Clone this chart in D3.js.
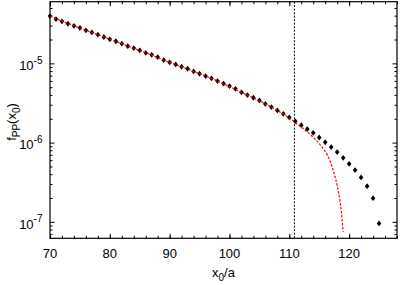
<!DOCTYPE html>
<html>
<head>
<meta charset="utf-8">
<script src="https://cdn.jsdelivr.net/npm/d3@7"></script>
<style>
  body { margin: 0; background: #fff; }
  text { font-family: "Liberation Sans", Arial, sans-serif; fill: #000; }
</style>
</head>
<body>
<div id="chart"></div>
<script>
// simulation points (black)
const simX = d3.range(70, 126);
const simY = [
  3.95e-5, 3.62e-5, 3.39e-5, 3.16e-5, 2.98e-5, 2.81e-5, 2.61e-5, 2.46e-5, 2.30e-5, 2.15e-5,
  2.01e-5, 1.90e-5, 1.77e-5, 1.65e-5, 1.56e-5, 1.46e-5, 1.36e-5, 1.28e-5, 1.20e-5, 1.10e-5,
  1.03e-5, 9.70e-6, 9.06e-6, 8.55e-6, 7.92e-6, 7.39e-6, 6.92e-6, 6.47e-6, 5.98e-6, 5.56e-6,
  5.17e-6, 4.77e-6, 4.31e-6, 3.98e-6, 3.68e-6, 3.41e-6, 3.08e-6, 2.81e-6, 2.55e-6, 2.31e-6,
  2.08e-6, 1.86e-6, 1.66e-6, 1.48e-6, 1.33e-6, 1.16e-6, 1.01e-6, 8.77e-7, 7.59e-7, 6.43e-7,
  5.40e-7, 4.50e-7, 3.64e-7, 2.82e-7, 1.99e-7, 9.55e-8
];

// theory curve (red dashed)
const fitX = [70, 74, 78, 82, 86, 90, 94, 98, 102, 106, 108, 110, 110.83, 111.67, 112.5,
  113.33, 114.17, 115, 115.83, 116.38, 116.95, 117.5, 118.05, 118.45, 118.72, 118.88, 119.0];
const fitY = [3.95e-5, 2.98e-5, 2.30e-5, 1.77e-5, 1.36e-5, 1.03e-5, 7.92e-6, 5.98e-6, 4.31e-6,
  3.08e-6, 2.55e-6, 2.04e-6, 1.84e-6, 1.64e-6, 1.46e-6, 1.30e-6, 1.13e-6, 9.77e-7, 8.04e-7,
  6.95e-7, 5.46e-7, 4.08e-7, 2.77e-7, 1.88e-7, 1.28e-7, 9.55e-8, 7.48e-8];

const markerX = 110.85;

const xTicks = [70, 80, 90, 100, 110, 120];
const xMinor = d3.range(70, 129, 2);
const yTicks = [1e-7, 1e-6, 1e-5];
const yExp = ["-7", "-6", "-5"];
const yMinor = [];
[1e-8, 1e-7, 1e-6, 1e-5].forEach(d => { for (let k = 2; k <= 9; k++) yMinor.push(d * k); });

const W = 407, H = 285;
const margin = {top: 1.7, right: 10, bottom: 46.7, left: 50};
const width = W - margin.left - margin.right;
const height = H - margin.top - margin.bottom;

const x = d3.scaleLinear().domain([70, 128]).range([0, width]);
const y = d3.scaleLog().domain([6.2e-8, 6.0e-5]).range([height, 0]);
const yMinorIn = yMinor.filter(d => d >= 6.2e-8 && d <= 6.0e-5);

const svg = d3.select("#chart").append("svg")
  .attr("width", W).attr("height", H);
const g = svg.append("g")
  .attr("transform", "translate(" + margin.left + "," + margin.top + ")");

// ticks, all pointing inward, mirrored on all sides
function ticks(axis, vals, size, tr) {
  g.append("g").attr("transform", tr)
    .call(axis.tickValues(vals).tickSize(size).tickFormat(""))
    .call(s => s.select(".domain").remove())
    .call(s => s.selectAll("line").attr("stroke", "#000"));
}
ticks(d3.axisBottom(x), xTicks, -4.5, "translate(0," + height + ")");
ticks(d3.axisBottom(x), xMinor, -2.5, "translate(0," + height + ")");
ticks(d3.axisTop(x), xTicks, -4.5, "translate(0,0)");
ticks(d3.axisTop(x), xMinor, -2.5, "translate(0,0)");
ticks(d3.axisLeft(y), yTicks, -4.5, "translate(0,0)");
ticks(d3.axisLeft(y), yMinorIn, -2.5, "translate(0,0)");
ticks(d3.axisRight(y), yTicks, -4.5, "translate(" + width + ",0)");
ticks(d3.axisRight(y), yMinorIn, -2.5, "translate(" + width + ",0)");

// x tick labels
g.selectAll(".xlab").data(xTicks).enter().append("text")
  .attr("x", d => x(d)).attr("y", height + 19.5)
  .attr("text-anchor", "middle").style("font-size", "13px")
  .text(d => d);

// y tick labels 10^n
yTicks.forEach((d, i) => {
  const t = g.append("text")
    .attr("x", -7.5).attr("y", y(d) + 6.7)
    .attr("text-anchor", "end").style("font-size", "13px");
  t.append("tspan").text("10");
  t.append("tspan").attr("dy", -6.5).style("font-size", "10px").text(yExp[i]);
});

// vertical marker line
g.append("line")
  .attr("x1", x(markerX)).attr("x2", x(markerX))
  .attr("y1", 0).attr("y2", height)
  .attr("stroke", "#000").attr("stroke-width", 1)
  .attr("stroke-dasharray", "2,1.5");

// simulation points
const diamond = "M0,-2.9L2.3,0L0,2.9L-2.3,0Z";
g.selectAll(".pt").data(simX).enter().append("path")
  .attr("d", diamond)
  .attr("transform", (d, i) => "translate(" + x(d) + "," + y(simY[i]) + ")")
  .attr("fill", "#000");

// theory curve
const line = d3.line()
  .x(d => x(d[0])).y(d => y(d[1]))
  .curve(d3.curveMonotoneX);
g.append("path")
  .datum(fitX.map((d, i) => [d, fitY[i]]))
  .attr("d", line)
  .attr("fill", "none").attr("stroke", "#ff0000")
  .attr("stroke-width", 1.2).attr("stroke-dasharray", "2.5,1.5");

// frame
g.append("rect")
  .attr("width", width).attr("height", height)
  .attr("fill", "none").attr("stroke", "#000").attr("stroke-width", 1.2);

// axis titles
const xt = svg.append("text")
  .attr("x", margin.left + width / 2).attr("y", 277.3)
  .attr("text-anchor", "middle").style("font-size", "13px");
xt.append("tspan").text("x");
xt.append("tspan").attr("dy", 4).style("font-size", "10px").text("0");
xt.append("tspan").attr("dy", -4).text("/a");

const yt = svg.append("text")
  .attr("transform", "translate(15.5,122) rotate(-90)")
  .attr("text-anchor", "middle").style("font-size", "13px");
yt.append("tspan").text("f");
yt.append("tspan").attr("dy", 4).style("font-size", "10px").text("PP");
yt.append("tspan").attr("dy", -4).text("(x");
yt.append("tspan").attr("dy", 4).style("font-size", "10px").text("0");
yt.append("tspan").attr("dy", -4).text(")");
</script>
</body>
</html>
